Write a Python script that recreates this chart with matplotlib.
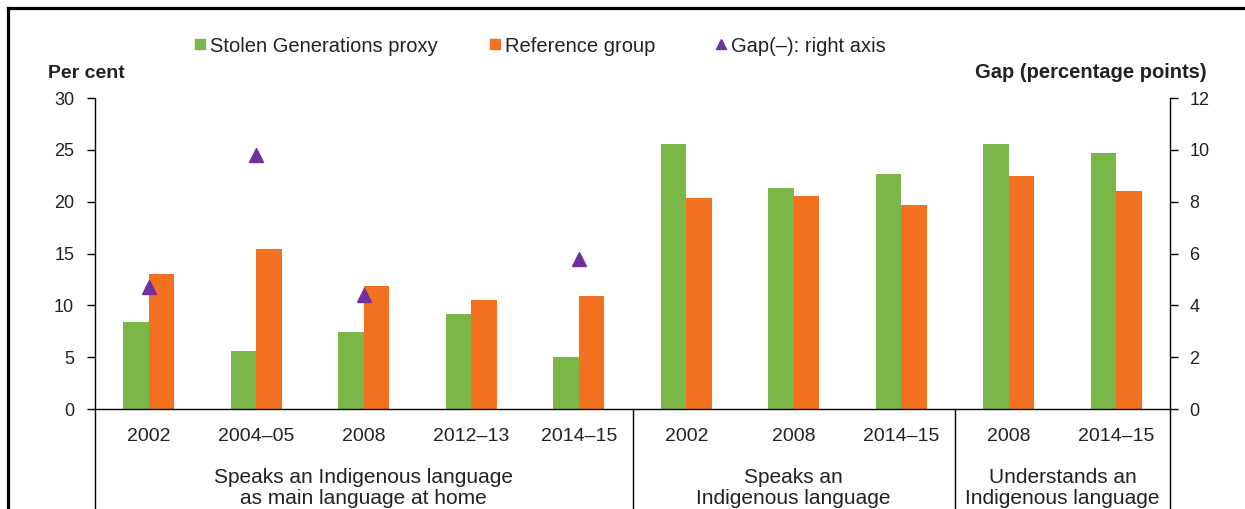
import numpy as np
import matplotlib
matplotlib.use("Agg")
import matplotlib.pyplot as plt
from matplotlib.lines import Line2D

plt.rcParams['font.family'] = ['Liberation Sans', 'DejaVu Sans']

# ---- data ----
years = ['2002', '2004–05', '2008', '2012–13', '2014–15',
         '2002', '2008', '2014–15',
         '2008', '2014–15']
groups = ['Speaks an Indigenous language\nas main language at home',
          'Speaks an\nIndigenous language',
          'Understands an\nIndigenous language']
group_sizes = [5, 3, 2]
stolen = [8.4, 5.6, 7.4, 9.2, 5.0, 25.6, 21.3, 22.7, 25.6, 24.7]
reference = [13.0, 15.4, 11.9, 10.5, 10.9, 20.4, 20.5, 19.7, 22.5, 21.0]
gap = [4.7, 9.8, 4.4, np.nan, 5.8, np.nan, np.nan, np.nan, np.nan, np.nan]

series_names = ['Stolen Generations proxy', 'Reference group', 'Gap(–): right axis']

GREEN = '#7AB648'
ORANGE = '#F37021'
PURPLE = '#7030A0'

W, H = 1245, 509
fig = plt.figure(figsize=(W / 100, H / 100), dpi=100)
ax = fig.add_axes([95 / W, 100 / H, 1075 / W, 311 / H])

x = np.arange(len(years))
bw = 0.237
ax.bar(x - bw / 2, stolen, bw, color=GREEN, zorder=2)
ax.bar(x + bw / 2, reference, bw, color=ORANGE, zorder=2)

ax2 = ax.twinx()
ax2.plot(x, gap, linestyle='none', marker='^', ms=10, color=PURPLE, zorder=3)

ax.set_xlim(-0.5, len(years) - 0.5)
ax.set_ylim(0, 30)
ax2.set_ylim(0, 12)
ax.set_yticks(np.arange(0, 31, 5))
ax2.set_yticks(np.arange(0, 13, 2))

for s in ['top', 'right']:
    ax.spines[s].set_visible(False)
for s in ['top', 'left', 'bottom']:
    ax2.spines[s].set_visible(False)
ax.spines['left'].set_visible(False)
ax2.spines['right'].set_visible(False)
ax.spines['bottom'].set_linewidth(1.0)

ax.set_xticks(x, years)
ax.tick_params(axis='x', length=0, pad=14, labelsize=14)
ax.tick_params(axis='y', direction='out', length=6, width=1.0, pad=9, labelsize=13)
ax2.tick_params(axis='y', direction='out', length=6, width=1.0, pad=8, labelsize=13)
for a in (ax, ax2):
    for t in a.get_yticklabels() + a.get_xticklabels():
        t.set_color('#222222')

# vertical lines: axes and group separators extending below the axis
bounds = np.concatenate([[0], np.cumsum(group_sizes)]) - 0.5
trans = ax.get_xaxis_transform()
for i, b in enumerate(bounds):
    top = 1.0 if i in (0, len(bounds) - 1) else 0.0
    ax.add_line(Line2D([b, b], [-0.35, top], transform=trans, color='black',
                       lw=1.0, clip_on=False, zorder=4))

# group labels
for i, g in enumerate(groups):
    c = (bounds[i] + bounds[i + 1]) / 2
    ax.text(c, -0.254, g, transform=trans, ha='center', va='center',
            fontsize=15, linespacing=1.15, color='#222222')

# axis titles
fig.text(48 / W, 1 - 73 / H, 'Per cent', ha='left', va='center',
         fontsize=14, fontweight='bold', color='#222222')
fig.text(1207 / W, 1 - 73 / H, 'Gap (percentage points)', ha='right', va='center',
         fontsize=14.5, fontweight='bold', color='#222222')

# legend entries
handles = [Line2D([], [], ls='none', marker='s', ms=7, color=GREEN),
           Line2D([], [], ls='none', marker='s', ms=7, color=ORANGE),
           Line2D([], [], ls='none', marker='^', ms=7, color=PURPLE)]
lefts = [195, 490, 716]
for h, name, lx in zip(handles, series_names, lefts):
    fig.legend(handles=[h], labels=[name], loc='center left',
               bbox_to_anchor=(lx / W, 1 - 46 / H), frameon=False,
               handlelength=0.5, handletextpad=0.25, borderpad=0,
               borderaxespad=0, fontsize=14.5, labelcolor='#222222')

# outer frame (left and top)
fig.add_artist(Line2D([7.5 / W, 7.5 / W], [0, 1 - 8.3 / H], transform=fig.transFigure,
                      color='black', lw=2.3))
fig.add_artist(Line2D([7.5 / W, 1], [1 - 8.3 / H, 1 - 8.3 / H], transform=fig.transFigure,
                      color='black', lw=2.3))

fig.savefig('out.png', dpi=100)
